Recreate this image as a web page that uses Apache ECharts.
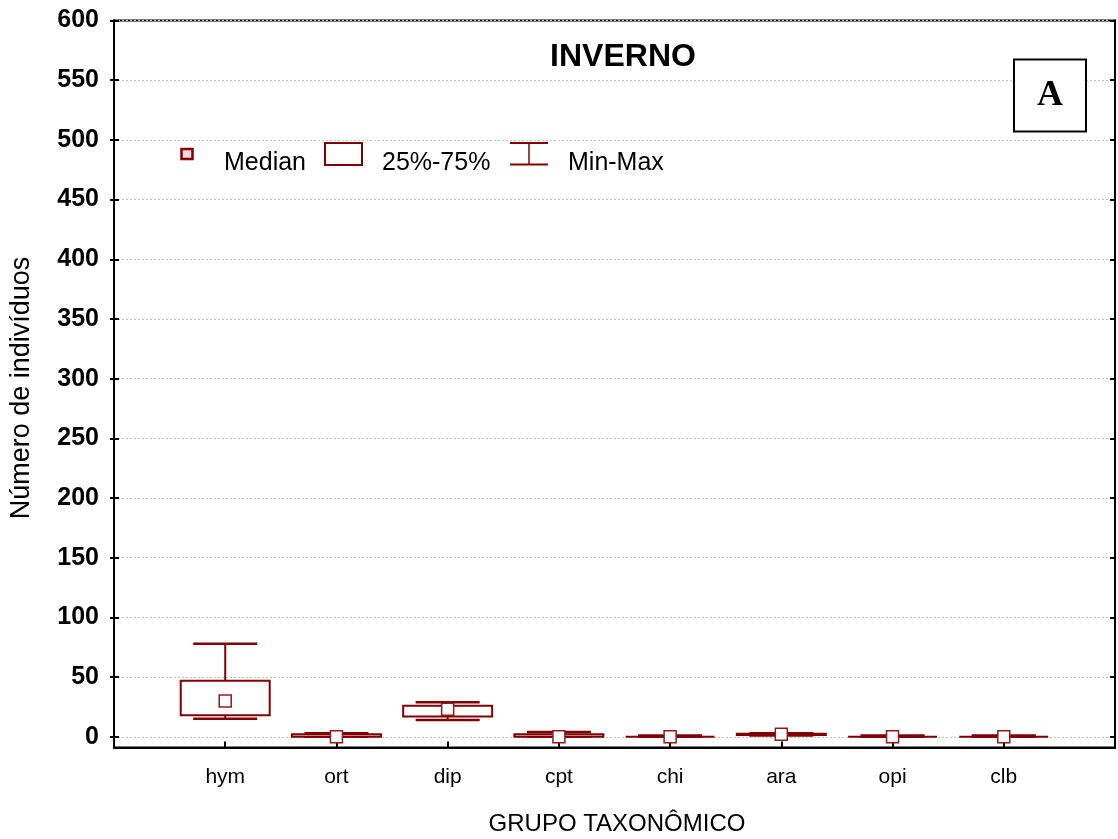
<!DOCTYPE html>
<html>
<head>
<meta charset="utf-8">
<title>INVERNO</title>
<script src="https://cdn.jsdelivr.net/npm/echarts@6/dist/echarts.min.js"></script>
<style>
  html, body { margin: 0; padding: 0; background: #fff; }
  #chart { width: 1118px; height: 839px; }
</style>
</head>
<body>
<div id="chart"></div>
<script>
// Number of individuals per taxonomic group (winter samples)
const categories = ['hym', 'ort', 'dip', 'cpt', 'chi', 'ara', 'opi', 'clb'];
const minVals    = [15, 0, 14, 0, 0, 1,   0, 0];
const q1Vals     = [18, 0, 17, 0, 0, 1.5, 0, 0];
const medianVals = [30, 0, 23, 0, 0, 2,   0, 0];
const q3Vals     = [47, 2, 26, 2, 0, 2.5, 0, 0];
const maxVals    = [78, 3, 29, 4, 1, 3,   1, 1];
const yTicks = [0, 50, 100, 150, 200, 250, 300, 350, 400, 450, 500, 550, 600];
const xPositions = categories.map((c, i) => i + 1);

const FONT = "'Liberation Sans', Arial, sans-serif";
const RED = '#800000';

const boxData = categories.map((c, i) => [
  i + 1, minVals[i], q1Vals[i], medianVals[i], q3Vals[i], maxVals[i]
]);

function renderBox(params, api) {
  const x = api.value(0);
  const pMin = api.coord([x, api.value(1)]);
  const pQ1 = api.coord([x, api.value(2)]);
  const pMed = api.coord([x, api.value(3)]);
  const pQ3 = api.coord([x, api.value(4)]);
  const pMax = api.coord([x, api.value(5)]);
  const band = api.size([1, 0])[0];
  const boxHalf = band * 0.4;
  const capHalf = band * 0.288;
  const cx = pMed[0];
  const line = { stroke: RED, lineWidth: 2, fill: null };
  const children = [
    { type: 'line', shape: { x1: cx, y1: pMax[1], x2: cx, y2: pQ3[1] }, style: line },
    { type: 'line', shape: { x1: cx, y1: pQ1[1], x2: cx, y2: pMin[1] }, style: line },
    { type: 'line', shape: { x1: cx - capHalf, y1: pMax[1], x2: cx + capHalf, y2: pMax[1] }, style: { stroke: RED, lineWidth: 2.5 } },
    { type: 'line', shape: { x1: cx - capHalf, y1: pMin[1], x2: cx + capHalf, y2: pMin[1] }, style: { stroke: RED, lineWidth: 2.5 } },
    { type: 'rect', shape: { x: cx - boxHalf, y: pQ3[1], width: boxHalf * 2, height: pQ1[1] - pQ3[1] },
      style: { stroke: RED, lineWidth: 2, fill: '#fff' } },
    { type: 'rect', shape: { x: cx - 6, y: pMed[1] - 6, width: 12, height: 12 },
      style: { stroke: '#8e1c1c', lineWidth: 1.5, fill: '#fff' } }
  ];
  return { type: 'group', children: children };
}

const chart = echarts.init(document.getElementById('chart'), null, { renderer: 'canvas' });

const yBase = {
  type: 'value', min: -9, max: 600,
  axisLine: { show: false },
  axisLabel: { show: false },
  splitLine: { show: false },
  axisTick: { show: true, customValues: yTicks, lineStyle: { color: '#000', width: 2 } }
};

chart.setOption({
  animation: false,
  backgroundColor: '#fff',
  grid: {
    left: 114, right: 3, top: 20.5, bottom: 91.5,
    show: true, borderColor: '#000', borderWidth: 2, backgroundColor: '#fff'
  },
  xAxis: {
    type: 'value', min: 0, max: 9,
    axisLine: { show: true, onZero: false, lineStyle: { color: '#000', width: 2 } },
    axisTick: { show: true, inside: true, length: 6, customValues: xPositions,
      lineStyle: { color: '#000', width: 2 } },
    axisLabel: { customValues: xPositions, formatter: v => categories[Math.round(v) - 1] || '',
      fontFamily: FONT, fontSize: 21, color: '#000', margin: 19 },
    splitLine: { show: false }
  },
  yAxis: [
    {
      type: 'value', min: -9, max: 600, position: 'left',
      axisLine: { show: true, onZero: false, lineStyle: { color: '#000', width: 2 } },
      axisTick: { show: true, length: 4, customValues: yTicks, lineStyle: { color: '#000', width: 2 } },
      axisLabel: { customValues: yTicks, fontFamily: FONT, fontSize: 25, fontWeight: 'bold',
        color: '#000', margin: 15 },
      splitLine: { show: true, lineStyle: { color: '#c4c4c4', width: 1, type: [2, 2] } }
    },
    Object.assign({}, yBase, { position: 'left', axisTick: Object.assign({}, yBase.axisTick, { inside: true, length: 5 }) }),
    Object.assign({}, yBase, { position: 'right', axisLine: { show: true, onZero: false, lineStyle: { color: '#000', width: 2 } },
      axisTick: Object.assign({}, yBase.axisTick, { inside: true, length: 5 }) })
  ],
  series: [{
    type: 'custom',
    name: 'INVERNO',
    renderItem: renderBox,
    encode: { x: 0, y: [1, 2, 3, 4, 5] },
    data: boxData,
    z: 5
  }],
  graphic: [
    // title
    { type: 'text', x: 623, y: 57, z: 10,
      style: { text: 'INVERNO', fontFamily: FONT, fontSize: 32, fontWeight: 'bold', fill: '#000',
        textAlign: 'center', textVerticalAlign: 'middle' } },
    // panel letter
    { type: 'rect', x: 0, y: 0, z: 10,
      shape: { x: 1014, y: 59.5, width: 72, height: 72 },
      style: { fill: '#fff', stroke: '#000', lineWidth: 2 } },
    { type: 'text', x: 1050, y: 96, z: 11,
      style: { text: 'A', fontFamily: "'Liberation Serif', 'Times New Roman', serif", fontSize: 36,
        fontWeight: 'bold', fill: '#000', textAlign: 'center', textVerticalAlign: 'middle' } },
    // legend
    { type: 'rect', z: 10, shape: { x: 181.5, y: 149, width: 11, height: 10 },
      style: { fill: '#f3dada', stroke: RED, lineWidth: 2.5 } },
    { type: 'text', x: 224, y: 163, z: 10,
      style: { text: 'Median', fontFamily: FONT, fontSize: 25, fill: '#000', textVerticalAlign: 'middle' } },
    { type: 'rect', z: 10, shape: { x: 325, y: 143, width: 37, height: 22 },
      style: { fill: '#fff', stroke: RED, lineWidth: 2 } },
    { type: 'text', x: 382, y: 163, z: 10,
      style: { text: '25%-75%', fontFamily: FONT, fontSize: 25, fill: '#000', textVerticalAlign: 'middle' } },
    { type: 'line', z: 10, shape: { x1: 510, y1: 143, x2: 548, y2: 143 }, style: { stroke: RED, lineWidth: 2 } },
    { type: 'line', z: 10, shape: { x1: 510, y1: 164.5, x2: 548, y2: 164.5 }, style: { stroke: RED, lineWidth: 2 } },
    { type: 'line', z: 10, shape: { x1: 529, y1: 143, x2: 529, y2: 164.5 }, style: { stroke: RED, lineWidth: 1.5 } },
    { type: 'text', x: 568, y: 163, z: 10,
      style: { text: 'Min-Max', fontFamily: FONT, fontSize: 25, fill: '#000', textVerticalAlign: 'middle' } },
    // axis names
    { type: 'text', x: 617, y: 824, z: 10,
      style: { text: 'GRUPO TAXONÔMICO', fontFamily: FONT, fontSize: 24, fill: '#000',
        textAlign: 'center', textVerticalAlign: 'middle' } },
    { type: 'text', x: 22, y: 388, rotation: Math.PI / 2, z: 10,
      style: { text: 'Número de indivíduos', fontFamily: FONT, fontSize: 27, fill: '#000',
        textAlign: 'center', textVerticalAlign: 'middle' } }
  ]
});
</script>
</body>
</html>
